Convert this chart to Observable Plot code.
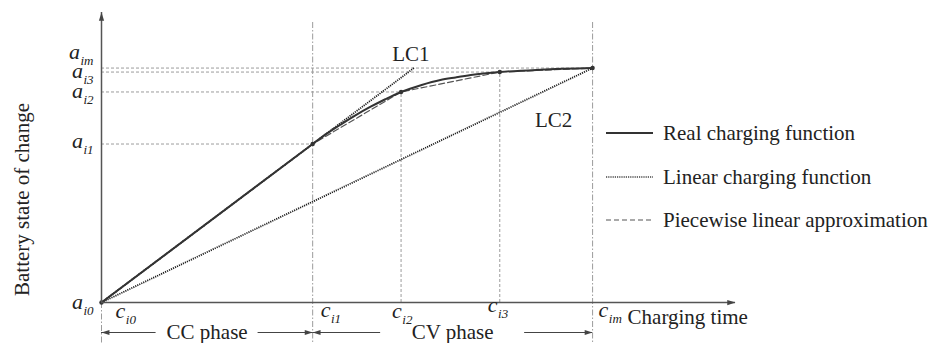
<!DOCTYPE html>
<html><head><meta charset="utf-8">
<script src="https://cdn.jsdelivr.net/npm/d3@7"></script>
<script src="https://cdn.jsdelivr.net/npm/@observablehq/plot@0.6"></script>
<style>
body{margin:0;background:#fff;}
#wrap{position:relative;width:934px;height:343px;font-family:"Liberation Serif","Times New Roman",serif;}
.leg{position:absolute;left:606px;display:flex;align-items:center;font-size:21px;color:#222;white-space:nowrap;line-height:24px;height:24px;}
.leg svg{margin-right:10px;display:block;}
</style></head><body><div id="wrap"></div>
<script>
// ---- data ----
const cLabels = ["i0", "i1", "i2", "i3", "im"];
const cValues = [0, 43.0, 61.0, 81.1, 100];
const aLabels = ["i0", "i1", "i2", "i3", "im"];
const aValues = [0, 67.6, 89.8, 98.3, 100];
// real charging function samples
const realX = [0, 43.0, 45.8, 48.7, 51.7, 54.8, 57.8, 61.0, 65.2, 69.0, 72.1, 75.2, 81.1, 89.4, 100];
const realY = [0, 67.6, 71.9, 75.9, 79.8, 83.5, 86.7, 89.8, 92.8, 94.9, 96.0, 97.0, 98.3, 99.3, 100];
const phaseNames = ["CC phase", "CV phase"];
const lineNames = ["LC1", "LC2"];
const legendNames = ["Real charging function", "Linear charging function", "Piecewise linear approximation"];
const xTitle = "Charging time";
const yTitle = "Battery state of change";
const xMax = 129.1, yMax = 123.7;

// ---- layout ----
const W = 934, H = 343, mL = 101, mR = 199, mT = 12, mB = 41;
const uxPerPx = xMax / (W - mL - mR);
const ink = "#222", lineCol = "#333", guide = "#9c9c9c";
const dotted = "1.2,1", dashed = "6,3", dashdot = "6,2,1.5,2";

const idx = d3.range(cValues.length);
const realA = [0, 1];
const realB = d3.range(1, realX.length);
const lcEnds = [
  {x: cValues[1] * aValues[4] / aValues[1], y: aValues[4]},
  {x: cValues[4], y: aValues[4]}
];
const phases = [
  {name: phaseNames[0], s: cValues[0], e: cValues[1], gap: 51},
  {name: phaseNames[1], s: cValues[1], e: cValues[4], gap: 72}
];
phases.forEach(p => { p.m = (p.s + p.e) / 2; });
const segs = phases.flatMap(p => [
  {x1: p.s, x2: p.m - p.gap * uxPerPx},
  {x1: p.m + p.gap * uxPerPx, x2: p.e}
]);
const heads = phases.flatMap(p => [{x: p.s, r: 180}, {x: p.e, r: 0}]);
const arrowHead = {
  draw(ctx, size) {
    const s = Math.sqrt(size / Math.PI);
    const L = s * 3.3, Wd = s * 1.05;
    ctx.moveTo(0, 0); ctx.lineTo(-L, -Wd); ctx.lineTo(-L, Wd); ctx.closePath();
  }
};
const aDy = [6, 4, 6, 6, -9];
const cDx = [14, 8, -9, -12, 6];
const cDy = [15, 14, 15, 9, 14];

const txt = {fill: ink, fontSize: 21, lineAnchor: "bottom"};
const sym = {fill: ink, fontSize: 22, lineAnchor: "bottom", fontStyle: "italic"};

const svg = Plot.plot({
  width: W, height: H,
  marginLeft: mL, marginRight: mR, marginTop: mT, marginBottom: mB,
  x: {domain: [0, xMax], axis: null},
  y: {domain: [0, yMax], axis: null},
  style: {fontFamily: '"Liberation Serif","Times New Roman",serif', fontSize: "21px", background: "white", overflow: "visible"},
  marks: [
    // horizontal guides
    Plot.ruleY(d3.range(1, 5), {y: i => aValues[i], x1: 0, x2: i => cValues[i], stroke: guide, strokeWidth: 1, strokeDasharray: "3,2"}),
    // vertical guides c_i2, c_i3
    Plot.ruleX([2, 3], {x: i => cValues[i], y1: 0, y2: i => aValues[i], stroke: guide, strokeWidth: 1, strokeDasharray: "3,2"}),
    // dash-dot phase boundaries
    Plot.ruleX([1, 4], {x: i => cValues[i], insetTop: 10, insetBottom: -41, stroke: guide, strokeWidth: 1, strokeDasharray: dashdot}),
    Plot.ruleX([0], {x: i => cValues[i], insetTop: H - mT - mB, insetBottom: -41, stroke: guide, strokeWidth: 1, strokeDasharray: dashdot}),
    // linear charging functions LC1, LC2
    Plot.link(lcEnds, {x1: 0, y1: 0, x2: "x", y2: "y", stroke: "#222", strokeWidth: 1.8, strokeDasharray: dotted}),
    // piecewise linear approximation
    Plot.line(idx, {x: i => cValues[i], y: i => aValues[i], stroke: "#555", strokeWidth: 1.2, strokeDasharray: dashed}),
    // real charging function
    Plot.line(realA, {x: i => realX[i], y: i => realY[i], stroke: lineCol, strokeWidth: 2}),
    Plot.line(realB, {x: i => realX[i], y: i => realY[i], stroke: lineCol, strokeWidth: 2, curve: "monotone-x"}),
    Plot.dot(idx, {x: i => cValues[i], y: i => aValues[i], r: 2.2, fill: lineCol}),
    // axes
    Plot.ruleY([0], {x1: 0, x2: xMax, stroke: "#555", strokeWidth: 1.5}),
    Plot.ruleX([0], {y1: 0, y2: yMax, stroke: "#555", strokeWidth: 1.5}),
    Plot.dot([{x: xMax, y: 0, r: 0}, {x: 0, y: yMax, r: -90}], {x: "x", y: "y", rotate: "r", symbol: arrowHead, r: 2.5, fill: "#444", stroke: "none"}),
    // phase arrows
    Plot.ruleY(segs, {y: 0, x1: "x1", x2: "x2", dy: 30, stroke: "#444", strokeWidth: 1.2}),
    Plot.dot(heads, {x: "x", y: 0, rotate: "r", dy: 30, symbol: arrowHead, r: 2.4, fill: "#444", stroke: "none"}),
    Plot.text(phases, {x: "m", y: 0, text: "name", dy: 36, ...txt}),
    // LC labels
    Plot.text([0], {x: lcEnds[0].x, y: lcEnds[0].y, text: () => lineNames[0], dx: -3, dy: -7, ...txt}),
    Plot.text([1], {x: lcEnds[1].x, y: lcEnds[1].y, text: () => lineNames[1], dx: -39, dy: 59, ...txt}),
    // y tick labels
    ...idx.map(i => Plot.text([i], {x: 0, y: aValues[i], text: () => "a|" + aLabels[i], textAnchor: "end", dx: -8, dy: aDy[i], ...sym})),
    // x tick labels
    ...idx.map(i => Plot.text([i], {x: cValues[i], y: 0, text: () => "c|" + cLabels[i], textAnchor: "start", dx: cDx[i], dy: cDy[i], ...sym})),
    // axis titles
    Plot.text([xTitle], {x: cValues[4], y: 0, text: d => d, textAnchor: "start", dx: 35, dy: 21, ...txt}),
    Plot.text([yTitle], {frameAnchor: "left", text: d => d, rotate: -90, textAnchor: "middle", lineAnchor: "middle", dx: -79, dy: 42, fill: ink, fontSize: 21})
  ]
});

// subscripts
d3.select(svg).selectAll("text").each(function () {
  const t = this.textContent;
  if (!t.includes("|")) return;
  const [base, sub] = t.split("|");
  const sel = d3.select(this);
  sel.text(null);
  sel.append("tspan").text(base);
  sel.append("tspan").attr("font-size", 13).attr("dy", 6).attr("dx", 0.5).text(sub);
});

const wrap = document.getElementById("wrap");
wrap.appendChild(svg);

// legend
const legStyles = [
  {w: 2, dash: null, col: "#333"},
  {w: 1.4, dash: dotted, col: "#444"},
  {w: 1.2, dash: "5,3", col: "#555"}
];
const legY = [133, 177, 220];
legendNames.forEach((name, i) => {
  const row = document.createElement("div");
  row.className = "leg";
  row.style.top = (legY[i] - 12) + "px";
  const st = legStyles[i];
  row.innerHTML = `<svg width="47" height="10"><line x1="0" x2="47" y1="5" y2="5" stroke="${st.col}" stroke-width="${st.w}" ${st.dash ? `stroke-dasharray="${st.dash}"` : ""}/></svg><span>${name}</span>`;
  wrap.appendChild(row);
});
</script></body></html>
